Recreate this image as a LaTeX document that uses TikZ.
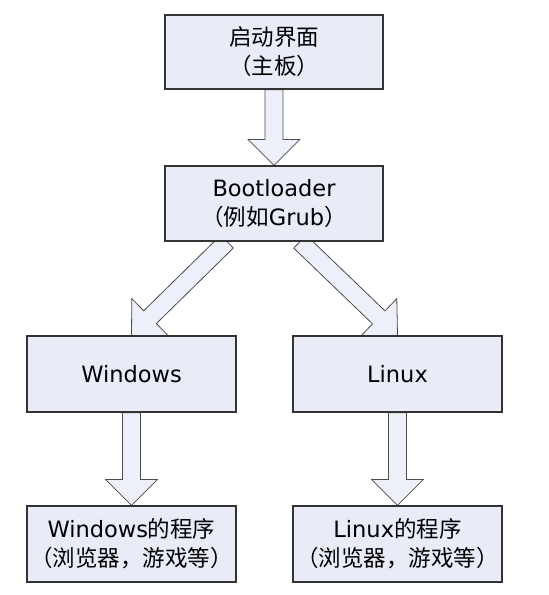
\documentclass[tikz,border=0pt]{standalone}
\usepackage{fontspec}
\setmainfont{DejaVu Sans}
\newfontfamily\cjk{Noto Sans CJK SC}
\usetikzlibrary{calc,backgrounds}
\definecolor{boxfill}{HTML}{E9EBF7}
\definecolor{arrowfill}{HTML}{EEF0F9}
\tikzset{
  stagebox/.style={draw=black!80, line width=1.2pt, fill=boxfill, align=center, inner sep=0pt,
    minimum width=209pt, minimum height=76pt, font=\fontsize{22.5}{29}\selectfont},
  fatarrow/.style={draw=black!70, line width=0.8pt, fill=arrowfill, line join=miter}
}
% block arrow from #1 to #2 (tip)
\newcommand{\blockarrow}[2]{%
  \coordinate (hb) at ($(#2)!26pt!(#1)$);
  \draw[fatarrow] ($(#1)!9pt!90:(#2)$) -- ($(hb)!9pt!90:(#2)$) -- ($(hb)!26pt!90:(#2)$) -- (#2)
    -- ($(hb)!26pt!-90:(#2)$) -- ($(hb)!9pt!-90:(#2)$) -- ($(#1)!9pt!-90:(#2)$) -- cycle;
}

\begin{document}
\begin{tikzpicture}[x=1pt,y=-1pt]
                \useasboundingbox (0,0) rectangle (549,595);
                \node[stagebox,minimum width=218pt,minimum height=74pt] (start) at (274,52) {{\cjk 启动界面}\\{\cjk （主板）}};
                \node[stagebox,minimum width=218pt,minimum height=75pt] (boot) at (274,203.5) {Bootloader\\{\cjk （例如}Grub{\cjk ）}};
                \node[stagebox] (win) at (131.5,374) {Windows};
                \node[stagebox] (linux) at (397.5,374) {Linux};
                \node[stagebox] (winapp) at (131.5,544) {Windows{\cjk 的程序}\\{\cjk （浏览器，游戏等）}};
                \node[stagebox] (linuxapp) at (397.5,544) {Linux{\cjk 的程序}\\{\cjk （浏览器，游戏等）}};
                \coordinate (bootL) at ($(boot.south)+(-47,0)$);
                \coordinate (bootR) at ($(boot.south)+(26,0)$);
                \begin{pgfonlayer}{background}
                  \blockarrow{start.south}{boot.north}
                  \blockarrow{bootL}{win.north}
                  \blockarrow{bootR}{linux.north}
                  \blockarrow{win.south}{winapp.north}
                  \blockarrow{linux.south}{linuxapp.north}
                \end{pgfonlayer}
            \end{tikzpicture}
\end{document}
